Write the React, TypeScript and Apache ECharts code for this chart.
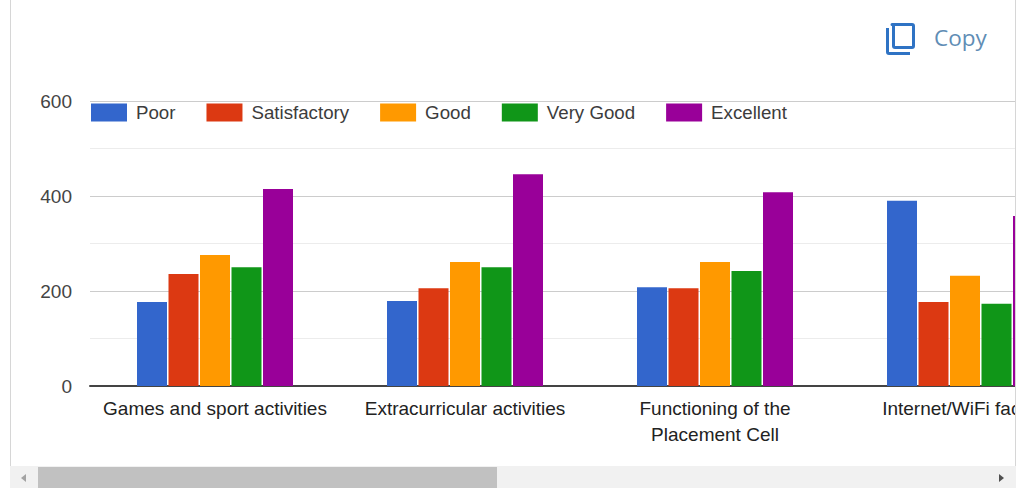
import React, { useEffect, useRef } from "react";
import * as echarts from "echarts";

const categories = [
  "Games and sport activities",
  "Extracurricular activities",
  "Functioning of the\nPlacement Cell",
  "Internet/WiFi facility",
];
const poor = [177, 179, 208, 390];
const satisfactory = [236, 206, 206, 177];
const good = [276, 261, 261, 232];
const veryGood = [250, 250, 242, 173];
const excellent = [415, 446, 408, 358];
const seriesNames = ["Poor", "Satisfactory", "Good", "Very Good", "Excellent"];
const seriesColors = ["#3366cc", "#dc3912", "#ff9900", "#109618", "#990099"];
const seriesValues = [poor, satisfactory, good, veryGood, excellent];

const FONT = "Liberation Sans";

echarts.graphic.registerShape(
  "copyIcon",
  echarts.graphic.extendPath(
    "M6 2h20a3 3 0 0 1 3 3v20a3 3 0 0 1-3 3H9a3 3 0 0 1-3-3V5a1 1 0 0 1 0-3z M9 5v20h17V5z M0 7h3v24h21v3H3a3 3 0 0 1-3-3z",
    {}
  )
);

export default function App() {
  const ref = useRef<HTMLDivElement>(null);
  useEffect(() => {
    document.body.style.margin = "0";
    const chart = echarts.init(ref.current!, undefined, { renderer: "svg" });
    chart.setOption({
      animation: false,
      backgroundColor: "#ffffff",
      textStyle: { fontFamily: FONT },
      legend: {
        left: 91,
        top: 103,
        padding: 0,
        itemWidth: 36,
        itemHeight: 18,
        itemGap: 31,
        icon: "rect",
        data: seriesNames,
        textStyle: { fontFamily: FONT, fontSize: 18.7, color: "#3c3c3c", padding: [0, 0, 0, 4] },
      },
      grid: { left: 90, top: 101, width: 1000, height: 285, containLabel: false },
      xAxis: {
        type: "category",
        data: categories,
        axisTick: { show: false },
        axisLine: { lineStyle: { color: "#444444", width: 2 } },
        axisLabel: {
          interval: 0,
          color: "#222222",
          fontFamily: FONT,
          fontSize: 19,
          lineHeight: 26,
          margin: 9,
          hideOverlap: false,
        },
      },
      yAxis: {
        type: "value",
        min: 0,
        max: 600,
        interval: 100,
        axisLine: { show: false },
        axisTick: { show: false },
        splitLine: { lineStyle: { color: ["#cccccc", "#ececec"], width: 1 } },
        axisLabel: {
          color: "#444444",
          fontFamily: FONT,
          fontSize: 19,
          margin: 18,
          formatter: (v: number) => (v % 200 === 0 ? String(v) : ""),
        },
      },
      series: seriesNames.map((name, i) => ({
        name,
        type: "bar",
        data: seriesValues[i],
        barWidth: 30,
        barGap: "5%",
        itemStyle: { color: seriesColors[i] },
      })),
      graphic: [
        { type: "rect", z: 100, shape: { x: 1015, y: 0, width: 200, height: 488 }, style: { fill: "#ffffff" } },
        { type: "rect", z: 100, shape: { x: 10, y: 0, width: 1, height: 466 }, style: { fill: "#d6d6d6" } },
        { type: "rect", z: 100, shape: { x: 1015, y: 0, width: 1, height: 466 }, style: { fill: "#d6d6d6" } },
        { type: "rect", z: 100, shape: { x: 10, y: 466, width: 1006, height: 22 }, style: { fill: "#f1f1f1" } },
        { type: "rect", z: 101, shape: { x: 38, y: 467, width: 459, height: 21 }, style: { fill: "#c1c1c1" } },
        { type: "polygon", z: 101, shape: { points: [[26, 474], [26, 482], [21, 478]] }, style: { fill: "#a3a3a3" } },
        { type: "polygon", z: 101, shape: { points: [[999, 474], [999, 482], [1004, 478]] }, style: { fill: "#505050" } },
        { type: "copyIcon", z: 101, x: 886, y: 21, style: { fill: "#2f73c4" } },
        {
          type: "text",
          z: 101,
          x: 934,
          y: 26,
          style: { text: "Copy", fontFamily: "Open Sans", fontSize: 22.5, fill: "#5f8db5" },
        },
      ],
    });
    return () => chart.dispose();
  }, []);
  return (
    <div style={{ width: 1019, height: 488, overflow: "hidden" }}>
      <div ref={ref} style={{ width: 1200, height: 488 }} />
    </div>
  );
}
